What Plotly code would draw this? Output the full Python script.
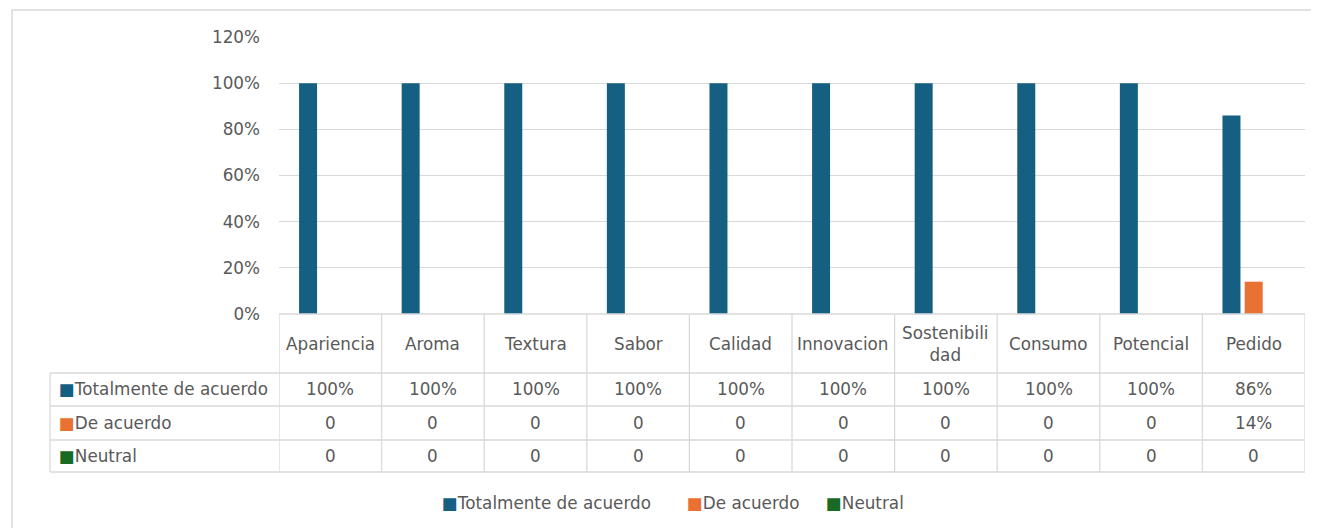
import plotly.graph_objects as go

categories = ["Apariencia", "Aroma", "Textura", "Sabor", "Calidad", "Innovacion",
              "Sostenibilidad", "Consumo", "Potencial", "Pedido"]
header_labels = ["Apariencia", "Aroma", "Textura", "Sabor", "Calidad", "Innovacion",
                 "Sostenibili<br>dad", "Consumo", "Potencial", "Pedido"]
series_names = ["Totalmente de acuerdo", "De acuerdo", "Neutral"]
totalmente = [1.00, 1.00, 1.00, 1.00, 1.00, 1.00, 1.00, 1.00, 1.00, 0.86]
de_acuerdo = [0, 0, 0, 0, 0, 0, 0, 0, 0, 0.14]
neutral = [0, 0, 0, 0, 0, 0, 0, 0, 0, 0]
table_text = [
    ["100%"] * 9 + ["86%"],
    ["0"] * 9 + ["14%"],
    ["0"] * 10,
]
colors = ["#156082", "#E97132", "#196B24"]

OFF = 8  # page body margin
W, H = 1319 - OFF, 528 - OFF
# target pixel positions in the screenshot
L, R, T, B = 279, 1305, 37, 314
FONT = "DejaVu Sans"
FS = 16.8
TXT = "#595959"
GRID = "#d9d9d9"

def py(p):
    return (B - p) / (B - T)

def px(p):
    return (p - L) / (R - L)

fig = go.Figure()
for name, vals, c in zip(series_names, [totalmente, de_acuerdo, neutral], colors):
    fig.add_trace(go.Bar(x=categories, y=vals, name=name, marker_color=c,
                         marker_line_width=0))

shapes = []
ann = []
line = dict(color=GRID, width=1.3)
# outer border
shapes.append(dict(type="rect", xref="paper", yref="paper",
                   x0=px(12), x1=px(1340), y0=py(560), y1=py(10),
                   line=dict(color=GRID, width=1.5)))
# table rows
row_y = [314, 373, 406, 440, 472]
for i, yy in enumerate(row_y):
    x0 = px(L) if i == 0 else px(50)
    shapes.append(dict(type="line", xref="paper", yref="paper", x0=x0, x1=px(R),
                       y0=py(yy), y1=py(yy), line=line))
# vertical lines
for k in range(len(categories) + 1):
    shapes.append(dict(type="line", xref="x", yref="paper", x0=k - 0.5, x1=k - 0.5,
                       y0=py(314), y1=py(472), line=line))
shapes.append(dict(type="line", xref="paper", yref="paper", x0=px(50), x1=px(50),
                   y0=py(373), y1=py(472), line=line))

font = dict(family=FONT, size=FS, color=TXT)
# header labels
for k, lab in enumerate(header_labels):
    ann.append(dict(x=categories[k], y=py(343.5), xref="x", yref="paper", text=lab,
                    showarrow=False, font=font, xanchor="center", yanchor="middle"))
# rows
row_centers = [389.5, 423, 456]
for r, name in enumerate(series_names):
    ann.append(dict(x=px(57), y=py(row_centers[r]), xref="paper", yref="paper",
                    text=f"<span style='color:{colors[r]}'>■</span>{name}",
                    showarrow=False, font=font, xanchor="left", yanchor="middle"))
    for k in range(len(categories)):
        ann.append(dict(x=categories[k], y=py(row_centers[r]), xref="x", yref="paper",
                        text=table_text[r][k], showarrow=False, font=font,
                        xanchor="center", yanchor="middle"))

# legend (drawn as text entries)
legend_x = [440, 685, 824]
for r, name in enumerate(series_names):
    ann.append(dict(x=px(legend_x[r]), y=py(503), xref="paper", yref="paper",
                    text=f"<span style='color:{colors[r]}'>■</span>{name}",
                    showarrow=False, font=font, xanchor="left", yanchor="middle"))

fig.update_layout(
    width=W, height=H, autosize=False,
    margin=dict(l=L - OFF, r=W - (R - OFF), t=T - OFF, b=H - (B - OFF), pad=0),
    paper_bgcolor="white", plot_bgcolor="white",
    barmode="group", bargap=0.35, bargroupgap=0.19,
    font=font,
    showlegend=False,
    shapes=shapes, annotations=ann,
)
fig.update_xaxes(showticklabels=False, showgrid=False, zeroline=False, showline=False,
                 range=[-0.5, 9.5])
fig.update_yaxes(range=[0, 1.2], dtick=0.2, tickformat=".0%", showgrid=True,
                 gridcolor=GRID, gridwidth=1.3, zeroline=False, showline=False,
                 ticklabelstandoff=18, tickfont=font)

fig.write_html("out.html")
